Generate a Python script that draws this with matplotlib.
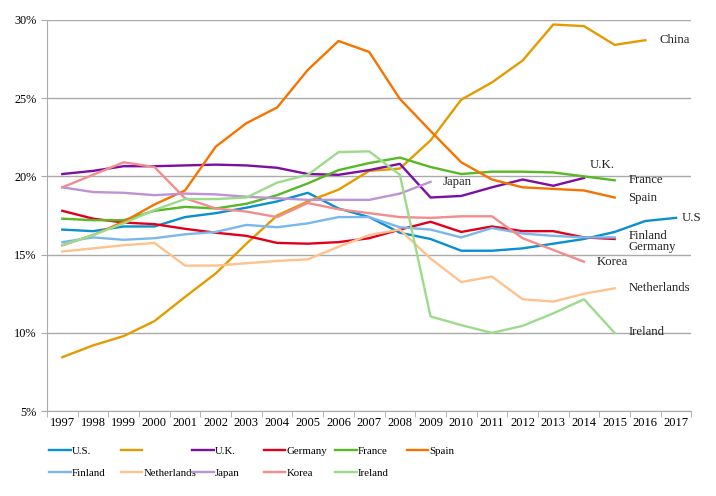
import numpy as np
import matplotlib
matplotlib.use('Agg')
import matplotlib.pyplot as plt
from matplotlib.ticker import FuncFormatter, FixedLocator

plt.rcParams['font.family'] = ['Liberation Serif', 'DejaVu Serif']

years = list(range(1997, 2018))

# values in percent
us = [16.6, 16.5, 16.8, 16.8, 17.4, 17.65, 18.0, 18.4, 18.95, 17.95, 17.4,
      16.4, 16.0, 15.25, 15.25, 15.4, 15.7, 16.0, 16.45, 17.15, 17.35]
china = [8.45, 9.2, 9.8, 10.75, 12.3, 13.8, 15.7, 17.5, 18.4, 19.15, 20.35,
         20.5, 22.3, 24.9, 26.0, 27.4, 29.7, 29.6, 28.4, 28.7]
uk = [20.15, 20.35, 20.65, 20.65, 20.7, 20.75, 20.7, 20.55, 20.15, 20.1, 20.4,
      20.8, 18.65, 18.75, 19.3, 19.8, 19.4, 19.9]
germany = [17.8, 17.3, 17.05, 16.95, 16.65, 16.4, 16.2, 15.75, 15.7, 15.8, 16.05,
           16.6, 17.1, 16.45, 16.8, 16.5, 16.5, 16.1, 16.0]
france = [17.3, 17.2, 17.2, 17.8, 18.05, 17.95, 18.25, 18.8, 19.55, 20.4, 20.85,
          21.2, 20.6, 20.15, 20.3, 20.3, 20.25, 20.0, 19.75]
spain = [15.6, 16.25, 17.1, 18.2, 19.1, 21.9, 23.4, 24.4, 26.8, 28.65, 27.95,
         24.95, 22.9, 20.9, 19.8, 19.3, 19.2, 19.1, 18.65]
finland = [15.8, 16.1, 15.95, 16.05, 16.3, 16.45, 16.9, 16.75, 17.0, 17.4, 17.4,
           16.75, 16.6, 16.1, 16.7, 16.35, 16.2, 16.1, 16.1]
netherlands = [15.2, 15.4, 15.6, 15.75, 14.3, 14.3, 14.45, 14.6, 14.7, 15.5, 16.25,
               16.6, 14.75, 13.25, 13.6, 12.15, 12.0, 12.5, 12.85]
japan = [19.3, 19.0, 18.95, 18.8, 18.9, 18.85, 18.7, 18.6, 18.5, 18.5, 18.5,
         18.9, 19.65]
korea = [19.3, 20.1, 20.9, 20.6, 18.6, 17.95, 17.75, 17.4, 18.3, 17.9, 17.65,
         17.4, 17.35, 17.45, 17.45, 16.05, 15.3, 14.55]
ireland = [15.6, 16.25, 17.0, 17.85, 18.55, 18.55, 18.65, 19.6, 20.1, 21.55, 21.6,
           20.1, 11.05, 10.5, 10.0, 10.45, 11.25, 12.15, 10.0]

series = [
    ('U.S.', us, '#0a8fd0'),
    ('', china, '#e39b00'),
    ('U.K.', uk, '#7d0ea3'),
    ('Germany', germany, '#e0001b'),
    ('France', france, '#58b825'),
    ('Spain', spain, '#f77300'),
    ('Finland', finland, '#7ab7ec'),
    ('Netherlands', netherlands, '#ffc28d'),
    ('Japan', japan, '#bd93d5'),
    ('Korea', korea, '#f38c8c'),
    ('Ireland', ireland, '#9ddb8c'),
]

# end labels: text, x, y
end_labels = [
    ('China', 2016.45, 28.7),
    ('U.K.', 2014.2, 20.7),
    ('France', 2015.45, 19.75),
    ('Spain', 2015.45, 18.65),
    ('U.S', 2017.2, 17.35),
    ('Finland', 2015.45, 16.2),
    ('Germany', 2015.45, 15.5),
    ('Korea', 2014.4, 14.5),
    ('Netherlands', 2015.45, 12.85),
    ('Ireland', 2015.45, 10.05),
    ('Japan', 2009.4, 19.65),
]

fig = plt.figure(figsize=(7.16, 4.96), dpi=100)
ax = fig.add_axes([0.0656, 0.171, 0.9, 0.789])

lines = []
for name, vals, col in series:
    ln, = ax.plot(years[:len(vals)], vals, color=col, lw=1.7, label=name)
    lines.append(ln)

for txt, x, y in end_labels:
    ax.text(x, y, txt, fontsize=9.2, va='center', ha='left', color='#222222')

ax.set_xlim(1996.5, 2017.5)
ax.set_ylim(5, 30)
ax.set_yticks(np.arange(5, 31, 5))
ax.yaxis.set_major_formatter(FuncFormatter(lambda v, p: '%d%%' % v))
ax.set_xticks(years)
ax.set_xticklabels([str(y) for y in years])
ax.xaxis.set_minor_locator(FixedLocator(np.arange(1996.5, 2018, 1)))
ax.tick_params(axis='x', which='major', length=0, labelsize=9, pad=4)
ax.tick_params(axis='x', which='minor', length=4, color='#aaaaaa')
ax.tick_params(axis='y', length=4, color='#aaaaaa', labelsize=8.8)

ax.grid(axis='y', color='#aaaaaa', lw=1)
ax.set_axisbelow(True)
for s in ['top', 'right']:
    ax.spines[s].set_visible(False)
for s in ['left', 'bottom']:
    ax.spines[s].set_color('#aaaaaa')

# legend: 6 equally spaced columns, filled row by row
ncol = 6
for c in range(ncol):
    idx = [i for i in (c, c + ncol) if i < len(lines)]
    fig.legend([lines[i] for i in idx], [series[i][0] for i in idx],
               loc='upper left', bbox_to_anchor=((49 + 71.5 * c) / 716, 1 - 446 / 496),
               frameon=False, fontsize=7.8, handlelength=2.0, handletextpad=0.1,
               borderpad=0, borderaxespad=0, labelspacing=1.2)

fig.savefig('out.png', dpi=100)
